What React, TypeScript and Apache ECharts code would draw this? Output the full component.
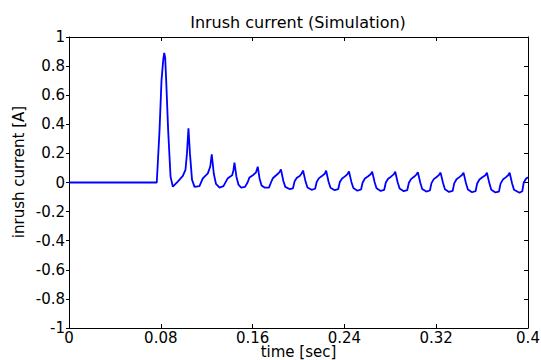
import React, { useEffect, useRef } from "react";
import * as echarts from "echarts";

const chartTitle = "Inrush current (Simulation)";
const xAxisName = "time [sec]";
const yAxisName = "inrush current [A]";

const xTicks = [0, 0.08, 0.16, 0.24, 0.32, 0.4];
const yTicks = [-1, -0.8, -0.6, -0.4, -0.2, 0, 0.2, 0.4, 0.6, 0.8, 1];

// time [sec]
const times = [
  0, 0.0765, 0.0789, 0.0806, 0.0822, 0.083, 0.0838, 0.0847, 0.0864, 0.0885, 0.0905, 0.0948,
  0.0992, 0.1015, 0.1028, 0.1041, 0.1054, 0.1072, 0.1094, 0.1137, 0.1166, 0.121,
  0.1231, 0.1244, 0.1262, 0.1281, 0.1312, 0.1346, 0.1384, 0.1422, 0.1433, 0.1442,
  0.1459, 0.1477, 0.1501, 0.1534, 0.1556, 0.1573, 0.1602, 0.163, 0.1645, 0.166,
  0.1678, 0.1704, 0.1743, 0.176, 0.1776, 0.1806, 0.1833, 0.1847,
  0.1868, 0.1885, 0.1921, 0.1952, 0.1966, 0.1986, 0.2011, 0.2027, 0.204,
  0.2061, 0.2078, 0.2114, 0.2145, 0.2159, 0.2179, 0.2204, 0.2228, 0.2241,
  0.2262, 0.2279, 0.2315, 0.2346, 0.236, 0.238, 0.2405, 0.2427, 0.244,
  0.2461, 0.2478, 0.2514, 0.2545, 0.2559, 0.2579, 0.2604, 0.2629, 0.2642,
  0.2663, 0.268, 0.2716, 0.2747, 0.2761, 0.2781, 0.2806, 0.283, 0.2843,
  0.2864, 0.2881, 0.2917, 0.2948, 0.2962, 0.2982, 0.3007, 0.3027, 0.304,
  0.3061, 0.3078, 0.3114, 0.3145, 0.3159, 0.3179, 0.3204, 0.3225, 0.3238,
  0.3259, 0.3276, 0.3312, 0.3343, 0.3357, 0.3377, 0.3402, 0.3425, 0.3438,
  0.3459, 0.3476, 0.3512, 0.3543, 0.3557, 0.3577, 0.3602, 0.3629, 0.3642,
  0.3663, 0.368, 0.3716, 0.3747, 0.3761, 0.3781, 0.3806, 0.3827, 0.384,
  0.3861, 0.3878, 0.3926, 0.395, 0.3963, 0.3984, 0.4,
];

// inrush current [A]
const current = [
  0, 0, 0.36, 0.7, 0.85, 0.89, 0.86, 0.7, 0.36, 0.04, -0.029, 0.006,
  0.045, 0.086, 0.2, 0.372, 0.2, 0.02, -0.03, -0.025, 0.029, 0.063,
  0.11, 0.194, 0.06, -0.01, -0.035, -0.025, 0.03, 0.05, 0.085, 0.136,
  0.04, -0.015, -0.036, -0.03, 0.0, 0.035, 0.05, 0.07, 0.109, 0.03,
  -0.02, -0.035, -0.035, 0.0, 0.029, 0.05, 0.07, 0.09,
  0.01, -0.03, -0.045, -0.04, 0.008, 0.032, 0.045, 0.062, 0.082,
  0.008, -0.034, -0.05, -0.043, 0.005, 0.03, 0.044, 0.06, 0.081,
  0.005, -0.036, -0.053, -0.046, 0.003, 0.028, 0.042, 0.058, 0.076,
  0.004, -0.038, -0.056, -0.048, 0.0, 0.027, 0.041, 0.057, 0.075,
  0.003, -0.04, -0.058, -0.05, 0.0, 0.026, 0.04, 0.056, 0.074,
  0.002, -0.042, -0.06, -0.052, -0.002, 0.025, 0.039, 0.054, 0.071,
  0.0, -0.044, -0.062, -0.055, -0.004, 0.023, 0.038, 0.052, 0.068,
  -0.002, -0.046, -0.065, -0.058, -0.006, 0.022, 0.037, 0.051, 0.068,
  -0.003, -0.048, -0.067, -0.06, -0.007, 0.021, 0.036, 0.05, 0.067,
  -0.004, -0.05, -0.068, -0.062, -0.008, 0.02, 0.035, 0.05, 0.067,
  -0.005, -0.05, -0.07, -0.06, 0.0, 0.028, 0.035,
];

const FONT = "DejaVu Sans";

function fmt(v: number): string {
  return String(parseFloat(v.toFixed(2)));
}

export default function App() {
  const ref = useRef<HTMLDivElement>(null);

  useEffect(() => {
    if (!ref.current) return;
    document.body.style.margin = "0";
    const chart = echarts.init(ref.current, null, { renderer: "svg" });
    const data = times.map((t, i) => [t, current[i]]);
    const axisLine = { show: true, onZero: false, lineStyle: { color: "#000", width: 1 } };
    const labelStyle = { color: "#000", fontSize: 15, fontFamily: FONT };
    chart.setOption({
      animation: false,
      backgroundColor: "#fff",
      title: {
        text: chartTitle,
        left: 298,
        top: 14,
        textAlign: "center",
        padding: 0,
        textStyle: { color: "#000", fontSize: 16, fontWeight: "normal", fontFamily: FONT },
      },
      grid: {
        left: 69,
        right: 13,
        top: 37,
        bottom: 32,
        containLabel: false,
        outerBoundsMode: "none",
      },
      xAxis: [
        {
          type: "value",
          position: "bottom",
          min: xTicks[0],
          max: xTicks[xTicks.length - 1],
          interval: 0.08,
          axisLine,
          axisTick: { show: true, inside: true, length: 4, lineStyle: { color: "#000" } },
          splitLine: { show: false },
          axisLabel: { ...labelStyle, margin: 2, formatter: (v: number) => fmt(v) },
          name: xAxisName,
          nameLocation: "middle",
          nameGap: 16,
          nameMoveOverlap: false,
          nameTextStyle: { ...labelStyle },
        },
        {
          type: "value",
          position: "top",
          min: xTicks[0],
          max: xTicks[xTicks.length - 1],
          interval: 0.08,
          axisLine,
          axisTick: { show: true, inside: true, length: 4, lineStyle: { color: "#000" } },
          splitLine: { show: false },
          axisLabel: { show: false },
        },
      ],
      yAxis: [
        {
          type: "value",
          position: "left",
          min: yTicks[0],
          max: yTicks[yTicks.length - 1],
          interval: 0.2,
          axisLine,
          axisTick: { show: true, inside: false, length: 3, lineStyle: { color: "#000" } },
          splitLine: { show: false },
          axisLabel: { ...labelStyle, margin: 4, formatter: (v: number) => fmt(v) },
        },
        {
          type: "value",
          position: "right",
          min: yTicks[0],
          max: yTicks[yTicks.length - 1],
          interval: 0.2,
          axisLine,
          axisTick: { show: true, inside: true, length: 4, lineStyle: { color: "#000" } },
          splitLine: { show: false },
          axisLabel: { show: false },
        },
      ],
      graphic: [
        {
          type: "text",
          x: 19,
          y: 172,
          rotation: Math.PI / 2,
          style: {
            text: yAxisName,
            fill: "#000",
            fontSize: 15,
            fontFamily: FONT,
            textAlign: "center",
            textVerticalAlign: "middle",
          },
        },
      ],
      series: [
        {
          type: "line",
          xAxisIndex: 0,
          yAxisIndex: 0,
          data,
          showSymbol: false,
          symbol: "none",
          clip: true,
          lineStyle: { color: "#0000ff", width: 1.8 },
        },
      ],
    });
    return () => chart.dispose();
  }, []);

  return (
    <div
      ref={ref}
      style={{ position: "absolute", left: 0, top: 0, width: 541, height: 360 }}
    />
  );
}
